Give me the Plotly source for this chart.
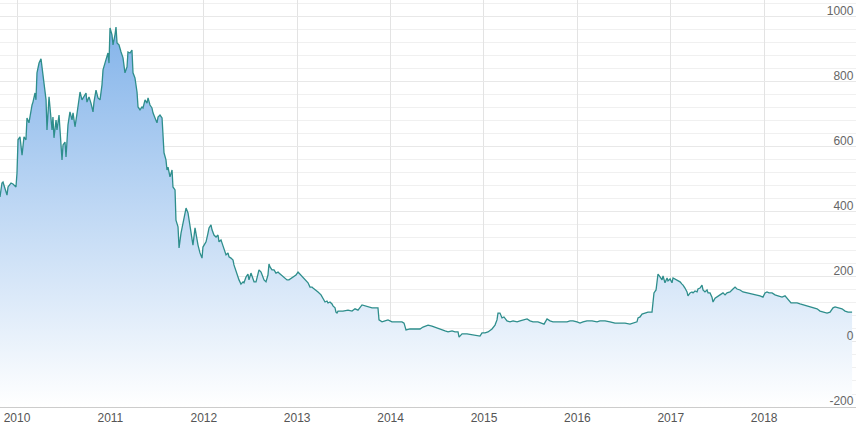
import plotly.graph_objects as go

# decimal year, value
years = [
    2009.818, 2009.839, 2009.850, 2009.872, 2009.893, 2009.904, 2009.936, 2009.957, 2009.989,
    2010.000, 2010.011, 2010.032, 2010.054, 2010.075, 2010.096, 2010.107, 2010.128, 2010.161,
    2010.171, 2010.193, 2010.203, 2010.214, 2010.236, 2010.257, 2010.268, 2010.289, 2010.311,
    2010.321, 2010.343, 2010.353, 2010.375, 2010.385, 2010.396, 2010.418, 2010.428, 2010.450,
    2010.460, 2010.482, 2010.493, 2010.514, 2010.525, 2010.546, 2010.567, 2010.589, 2010.600,
    2010.621, 2010.642, 2010.653, 2010.675, 2010.696, 2010.717, 2010.739, 2010.749, 2010.771,
    2010.792, 2010.814, 2010.824, 2010.846, 2010.867, 2010.889, 2010.910, 2010.921, 2010.942,
    2010.964, 2010.974, 2010.985, 2010.996, 2011.017, 2011.028, 2011.049, 2011.060, 2011.071,
    2011.092, 2011.114, 2011.135, 2011.156, 2011.178, 2011.188, 2011.210, 2011.231, 2011.242,
    2011.263, 2011.285, 2011.296, 2011.317, 2011.338, 2011.349, 2011.371, 2011.392, 2011.403,
    2011.424, 2011.445, 2011.456, 2011.478, 2011.499, 2011.510, 2011.531, 2011.553, 2011.563,
    2011.574, 2011.595, 2011.606, 2011.617, 2011.638, 2011.660, 2011.670, 2011.692, 2011.702,
    2011.724, 2011.735, 2011.756, 2011.777, 2011.810, 2011.831, 2011.842, 2011.874, 2011.884,
    2011.906, 2011.927, 2011.938, 2011.959, 2011.981, 2011.991, 2012.024, 2012.045, 2012.056,
    2012.077, 2012.088, 2012.109, 2012.131, 2012.152, 2012.163, 2012.184, 2012.206, 2012.216,
    2012.238, 2012.259, 2012.270, 2012.291, 2012.313, 2012.323, 2012.345, 2012.366, 2012.377,
    2012.398, 2012.420, 2012.430, 2012.452, 2012.473, 2012.484, 2012.505, 2012.527, 2012.538,
    2012.559, 2012.580, 2012.591, 2012.613, 2012.634, 2012.645, 2012.666, 2012.687, 2012.698,
    2012.709, 2012.730, 2012.752, 2012.773, 2012.795, 2012.805, 2012.837, 2012.859, 2012.891,
    2012.912, 2012.944, 2012.966, 2012.987, 2013.009, 2013.019, 2013.041, 2013.062, 2013.084,
    2013.105, 2013.116, 2013.137, 2013.159, 2013.169, 2013.201, 2013.223, 2013.255, 2013.276,
    2013.298, 2013.319, 2013.330, 2013.351, 2013.373, 2013.383, 2013.405, 2013.415, 2013.426,
    2013.437, 2013.490, 2013.544, 2013.587, 2013.619, 2013.651, 2013.694, 2013.726, 2013.758,
    2013.801, 2013.833, 2013.865, 2013.876, 2013.908, 2013.940, 2013.972, 2014.015, 2014.047,
    2014.079, 2014.122, 2014.144, 2014.165, 2014.208, 2014.261, 2014.315, 2014.347, 2014.368,
    2014.401, 2014.443, 2014.476, 2014.508, 2014.550, 2014.583, 2014.615, 2014.658, 2014.690,
    2014.722, 2014.733, 2014.765, 2014.818, 2014.872, 2014.925, 2014.957, 2014.979, 2015.011,
    2015.043, 2015.086, 2015.118, 2015.139, 2015.150, 2015.171, 2015.193, 2015.214, 2015.246,
    2015.278, 2015.311, 2015.354, 2015.386, 2015.418, 2015.461, 2015.493, 2015.525, 2015.578,
    2015.621, 2015.643, 2015.675, 2015.707, 2015.739, 2015.782, 2015.814, 2015.846, 2015.889,
    2015.921, 2015.953, 2015.996, 2016.028, 2016.060, 2016.103, 2016.157, 2016.210, 2016.242,
    2016.296, 2016.349, 2016.403, 2016.456, 2016.510, 2016.563, 2016.596, 2016.638, 2016.649,
    2016.671, 2016.692, 2016.724, 2016.756, 2016.799, 2016.810, 2016.820, 2016.842, 2016.853,
    2016.863, 2016.885, 2016.906, 2016.917, 2016.938, 2016.960, 2016.970, 2016.992, 2017.013,
    2017.024, 2017.056, 2017.077, 2017.099, 2017.120, 2017.131, 2017.152, 2017.174, 2017.184,
    2017.206, 2017.227, 2017.238, 2017.259, 2017.281, 2017.291, 2017.313, 2017.334, 2017.345,
    2017.366, 2017.388, 2017.399, 2017.420, 2017.441, 2017.452, 2017.474, 2017.495, 2017.527,
    2017.559, 2017.581, 2017.602, 2017.634, 2017.666, 2017.688, 2017.709, 2017.741, 2017.773,
    2017.816, 2017.848, 2017.880, 2017.923, 2017.955, 2017.987, 2018.009, 2018.030, 2018.052,
    2018.084, 2018.116, 2018.148, 2018.191, 2018.223, 2018.255, 2018.287, 2018.309, 2018.352,
    2018.384, 2018.416, 2018.459, 2018.491, 2018.523, 2018.566, 2018.598, 2018.630, 2018.673,
    2018.705, 2018.737, 2018.759, 2018.791, 2018.833, 2018.866, 2018.898, 2018.941,
]

values = [
    446, 489, 492, 474, 452, 477, 489, 486, 477,
    520, 622, 631, 575, 631, 622, 689, 674, 729,
    738, 766, 745, 828, 858, 871, 846, 797, 745,
    652, 754, 723, 652, 692, 628, 683, 652, 698,
    662, 560, 606, 615, 569, 668, 708, 683, 705,
    662, 702, 729, 769, 745, 754, 766, 738, 754,
    735, 708, 738, 775, 751, 745, 791, 837, 858,
    877, 889, 858, 966, 945, 914, 945, 969, 920,
    914, 892, 874, 828, 846, 892, 889, 898, 828,
    812, 769, 723, 714, 723, 720, 745, 735, 751,
    729, 720, 705, 689, 674, 692, 698, 689, 643,
    582, 560, 529, 538, 508, 529, 477, 468, 375,
    354, 289, 335, 366, 412, 397, 375, 305, 298,
    351, 314, 298, 274, 258, 292, 308, 335, 351,
    360, 345, 329, 323, 329, 308, 314, 292, 283,
    268, 274, 262, 258, 252, 237, 215, 200, 191,
    178, 185, 182, 200, 209, 191, 212, 197, 185,
    185, 206, 222, 215, 200, 191, 185, 206, 240,
    231, 222, 222, 212, 215, 212, 203, 200, 191,
    191, 197, 200, 206, 215, 212, 206, 197, 191,
    185, 182, 169, 169, 166, 160, 154, 145, 135,
    123, 126, 120, 123, 117, 111, 105, 92, 89,
    95, 95, 98, 95, 102, 98, 114, 111, 108,
    105, 105, 105, 68, 62, 65, 68, 62, 62,
    62, 62, 58, 37, 40, 40, 40, 46, 49,
    52, 49, 46, 43, 37, 34, 31, 34, 31,
    31, 15, 25, 25, 22, 18, 18, 28, 28,
    31, 40, 52, 68, 89, 89, 74, 77, 65,
    62, 65, 62, 65, 68, 71, 65, 62, 62,
    58, 55, 71, 65, 62, 62, 62, 62, 62,
    65, 65, 62, 58, 62, 65, 65, 62, 65,
    65, 62, 58, 58, 58, 55, 58, 62, 74,
    77, 86, 89, 92, 92, 123, 151, 160, 182,
    209, 200, 191, 203, 182, 197, 188, 194, 182,
    197, 191, 188, 185, 178, 175, 166, 154, 142,
    151, 154, 151, 157, 154, 163, 166, 175, 160,
    154, 160, 151, 151, 138, 123, 135, 138, 145,
    151, 145, 151, 154, 163, 169, 163, 160, 154,
    151, 151, 148, 145, 142, 138, 151, 154, 151,
    151, 145, 142, 138, 142, 132, 120, 120, 120,
    117, 114, 111, 108, 105, 102, 95, 92, 89,
    92, 105, 108, 105, 102, 95, 92, 92,
]

y_ticks = [-200, 0, 200, 400, 600, 800, 1000]
x_ticks = [2010, 2011, 2012, 2013, 2014, 2015, 2016, 2017, 2018]

floor = -200

fig = go.Figure()

# invisible baseline at the bottom of the plot, the area fills down to it
fig.add_trace(go.Scatter(
    x=[years[0], years[-1]], y=[floor, floor],
    mode='lines', line=dict(width=0), hoverinfo='skip', showlegend=False,
))

fig.add_trace(go.Scatter(
    x=years, y=values,
    mode='lines',
    line=dict(color='#2e8e8c', width=1.3),
    fill='tonexty',
    fillgradient=dict(
        type='vertical',
        start=floor, stop=max(values),
        colorscale=[[0, 'rgba(255,255,255,1)'], [1, '#84b4ea']],
    ),
    showlegend=False,
))

fig.update_layout(
    width=856, height=431,
    margin=dict(l=0, r=0, t=0, b=24),
    paper_bgcolor='white',
    plot_bgcolor='white',
    font=dict(family='Liberation Sans, Arial, sans-serif', size=12, color='#666666'),
    xaxis=dict(
        range=[2009.818, 2018.983],
        tickvals=x_ticks,
        ticktext=[str(y) for y in x_ticks],
        showgrid=True, gridcolor='#e3e3e3', gridwidth=1,
        showline=True, linecolor='#cccccc', linewidth=1,
        zeroline=False, ticks='',
        tickfont=dict(size=12, color='#555555'),
    ),
    # labels sit just inside the right edge, drawn as a "left" axis placed there
    yaxis=dict(
        range=[-200, 1052],
        side='left',
        anchor='free',
        position=0.997,
        tickvals=y_ticks,
        ticktext=[str(v) for v in y_ticks],
        ticklabelshift=-6,
        ticklabelstandoff=0,
        showgrid=True, gridcolor='#e8e8e8', gridwidth=1,
        minor=dict(dtick=40, tick0=0, showgrid=True, gridcolor='#f0f0f0', ticks=''),
        zeroline=False, showline=False, ticks='',
        tickfont=dict(size=12, color='#666666'),
    ),
)

# the page body has a default margin; drop it so the chart sits at the window corner
fig.write_html(
    "out.html",
    config={'displayModeBar': False},
    post_script="document.body.style.margin='0';",
)
